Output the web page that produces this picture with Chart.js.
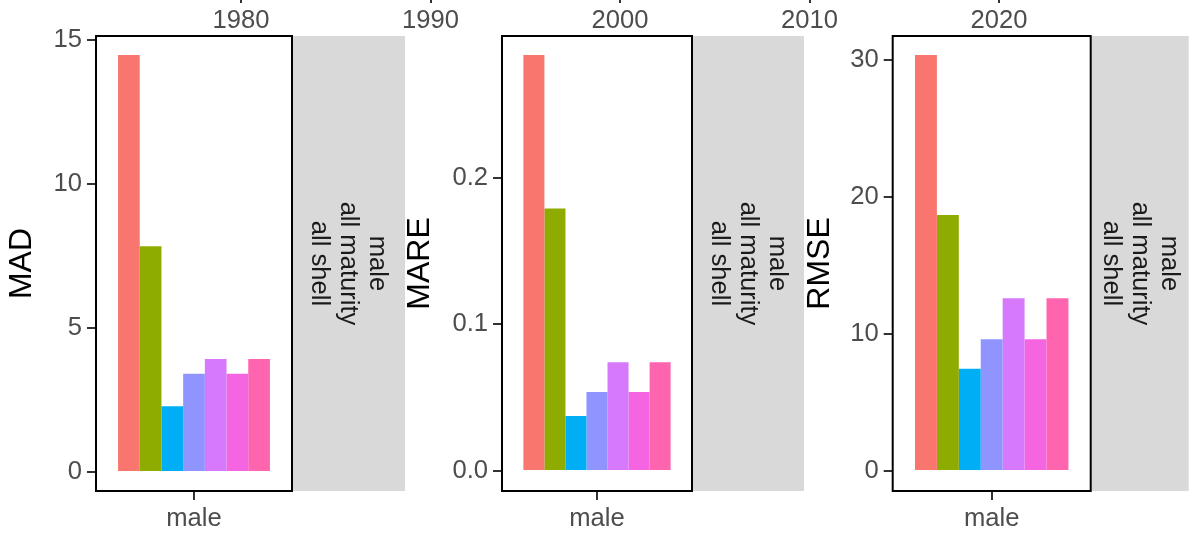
<!DOCTYPE html>
<html>
<head>
<meta charset="utf-8">
<title>Fit statistics by sex</title>
<script src="https://cdn.jsdelivr.net/npm/chart.js@4.4.1/dist/chart.umd.min.js"></script>
<style>
  html, body { margin: 0; padding: 0; background: #ffffff; }
  body { width: 1194px; height: 533px; position: relative; overflow: hidden; }
  canvas { position: absolute; }
</style>
</head>
<body>
<canvas id="years" width="1194" height="140" style="left:0;top:-100px"></canvas>
<canvas id="mad" width="405" height="533" style="left:0;top:0"></canvas>
<canvas id="mare" width="406" height="533" style="left:398px;top:0"></canvas>
<canvas id="rmse" width="396" height="533" style="left:798px;top:0"></canvas>
<script>
// ---- data ----
const categories = ['male'];
const seriesNames = ['model 1', 'model 2', 'model 3', 'model 4', 'model 5', 'model 6', 'model 7'];
const seriesColors = ['#F8766D', '#8EAB00', '#00AEF6', '#8F94FF', '#D779FC', '#F564E1', '#FF65AE'];
const madValues  = [14.48, 7.84, 2.28, 3.41, 3.92, 3.41, 3.92];
const mareValues = [0.2836, 0.179, 0.0375, 0.0539, 0.0741, 0.0539, 0.0741];
const rmseValues = [30.36, 18.69, 7.47, 9.61, 12.6, 9.61, 12.6];
const madTicks  = [0, 5, 10, 15];
const mareTicks = [0, 0.1, 0.2];
const rmseTicks = [0, 10, 20, 30];
const yearTicks = [1980, 1990, 2000, 2010, 2020];
const stripLines = ['male', 'all maturity', 'all shell'];

// ---- styling ----
const FONT = "'Liberation Sans', Arial, Helvetica, sans-serif";
const TICK_FONT = { family: FONT, size: 25.6 };
const TICK_COLOR = '#4D4D4D';
const MARK_COLOR = '#333333';

// panel frame plus the grey facet strip on its right
function panelDecor(stripWidth) {
  return {
    id: 'panelDecor',
    beforeDraw(chart) {
      const { ctx, chartArea: a } = chart;
      ctx.save();
      ctx.fillStyle = '#D9D9D9';
      ctx.fillRect(a.right, a.top, stripWidth, a.bottom - a.top);
      ctx.translate(a.right + stripWidth / 2, (a.top + a.bottom) / 2);
      ctx.rotate(Math.PI / 2);
      ctx.fillStyle = '#1A1A1A';
      ctx.font = `25.6px ${FONT}`;
      ctx.textAlign = 'center';
      ctx.textBaseline = 'middle';
      stripLines.forEach((t, i) => ctx.fillText(t, 0, (i - 1) * 29));
      ctx.restore();
    },
    afterDraw(chart) {
      const { ctx, chartArea: a } = chart;
      ctx.save();
      ctx.strokeStyle = '#000000';
      ctx.lineWidth = 2;
      ctx.strokeRect(a.left, a.top, a.right - a.left, a.bottom - a.top);
      ctx.restore();
    }
  };
}

function panel(id, title, values, ticks, fmt, yMin, yMax, axisWidth, rightPad, stripWidth) {
  return new Chart(document.getElementById(id), {
    type: 'bar',
    data: {
      labels: categories,
      datasets: values.map((v, i) => ({
        label: seriesNames[i],
        data: [v],
        backgroundColor: seriesColors[i],
        borderWidth: 0,
        barPercentage: 1,
        categoryPercentage: 0.775
      }))
    },
    options: {
      responsive: false,
      animation: false,
      devicePixelRatio: 1,
      layout: { padding: { top: 36, right: rightPad, bottom: 0, left: 0 } },
      plugins: { legend: { display: false }, tooltip: { enabled: false } },
      scales: {
        x: {
          grid: { drawOnChartArea: false, offset: false, tickLength: 9, lineWidth: 2, tickWidth: 2, tickColor: MARK_COLOR },
          border: { display: false },
          ticks: { font: TICK_FONT, color: TICK_COLOR, padding: 4, maxRotation: 0 },
          afterFit: s => { s.height = 42; }
        },
        y: {
          min: yMin,
          max: yMax,
          grid: { drawOnChartArea: false, tickLength: 9, lineWidth: 2, tickWidth: 2, tickColor: MARK_COLOR },
          border: { display: false },
          ticks: { font: TICK_FONT, color: TICK_COLOR, padding: 5, callback: fmt },
          afterBuildTicks: s => { s.ticks = ticks.map(v => ({ value: v })); },
          afterFit: s => { s.width = axisWidth; },
          title: {
            display: true,
            text: title,
            color: '#000000',
            font: { family: FONT, size: 32 },
            padding: { top: 3, bottom: 0 }
          }
        }
      }
    },
    plugins: [panelDecor(stripWidth)]
  });
}

const intFmt = v => String(v);
const oneDec = v => v.toFixed(1);

panel('mad',  'MAD',  madValues,  madTicks,  intFmt, -0.660, 15.139, 96, 113, 113);
panel('mare', 'MARE', mareValues, mareTicks, oneDec, -0.01364, 0.2966, 104, 112, 112);
panel('rmse', 'RMSE', rmseValues, rmseTicks, intFmt, -1.46, 31.75, 94.7, 103.3, 98);

// year axis running along the top edge
new Chart(document.getElementById('years'), {
  type: 'scatter',
  data: { datasets: [] },
  options: {
    responsive: false,
    animation: false,
    devicePixelRatio: 1,
    layout: { padding: { left: 146.25, right: 100.25, top: 0, bottom: 0 } },
    plugins: { legend: { display: false }, tooltip: { enabled: false } },
    scales: {
      x: {
        type: 'linear',
        position: 'bottom',
        min: 1975,
        max: 2025,
        afterBuildTicks: s => { s.ticks = yearTicks.map(v => ({ value: v })); },
        afterFit: s => { s.height = 46; },
        grid: { drawOnChartArea: false, tickLength: 9, lineWidth: 2, tickWidth: 2, tickColor: MARK_COLOR },
        border: { display: false },
        ticks: { font: TICK_FONT, color: TICK_COLOR, padding: 3, maxRotation: 0, autoSkip: false, callback: v => String(v) }
      },
      y: { display: false }
    }
  }
});
</script>
</body>
</html>
